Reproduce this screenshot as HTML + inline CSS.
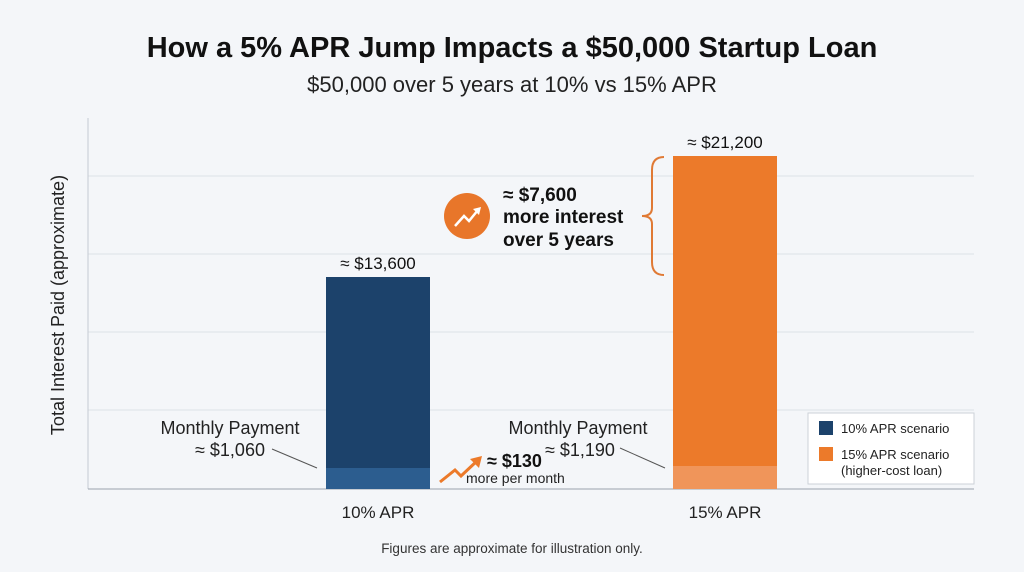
<!DOCTYPE html><html><head><style>body{margin:0;background:#f4f6f9;}svg{display:block;font-family:"Liberation Sans",sans-serif;}</style></head><body>
<svg width="1024" height="572" viewBox="0 0 1024 572">
<rect width="1024" height="572" fill="#f4f6f9"/>
<text x="512" y="57" text-anchor="middle" font-size="29" font-weight="bold" fill="#111">How a 5% APR Jump Impacts a $50,000 Startup Loan</text>
<text x="512" y="92" text-anchor="middle" font-size="22" fill="#222">$50,000 over 5 years at 10% vs 15% APR</text>
<g stroke="#dde1e7" stroke-width="1">
<line x1="88" y1="176" x2="974" y2="176"/><line x1="88" y1="254" x2="974" y2="254"/>
<line x1="88" y1="332" x2="974" y2="332"/><line x1="88" y1="410" x2="974" y2="410"/></g>
<line x1="88" y1="118" x2="88" y2="489" stroke="#c5cad2"/>
<line x1="88" y1="489" x2="974" y2="489" stroke="#9aa2ad"/>
<text transform="translate(64,305) rotate(-90)" text-anchor="middle" font-size="18" fill="#222">Total Interest Paid (approximate)</text>
<rect x="326" y="277" width="104" height="212" fill="#1c426b"/>
<rect x="326" y="468" width="104" height="21" fill="#2c5d8f"/>
<rect x="673" y="156" width="104" height="333" fill="#ec7a2a"/>
<rect x="673" y="466" width="104" height="23" fill="#f0955a"/>
<text x="378" y="269" text-anchor="middle" font-size="17" fill="#111">≈ $13,600</text>
<text x="725" y="148" text-anchor="middle" font-size="17" fill="#111">≈ $21,200</text>
<text x="378" y="518" text-anchor="middle" font-size="17" fill="#222">10% APR</text>
<text x="725" y="518" text-anchor="middle" font-size="17" fill="#222">15% APR</text>
<text x="230" y="434" text-anchor="middle" font-size="18" fill="#222">Monthly Payment</text>
<text x="230" y="456" text-anchor="middle" font-size="18" fill="#222">≈ $1,060</text>
<line x1="272" y1="449" x2="317" y2="468" stroke="#555"/>
<text x="578" y="434" text-anchor="middle" font-size="18" fill="#222">Monthly Payment</text>
<text x="545" y="456" font-size="18" fill="#222">≈ $1,190</text>
<line x1="620" y1="448" x2="665" y2="468" stroke="#555"/>
<polyline points="440,482 455,470 461,476 478,460" fill="none" stroke="#ec7a2a" stroke-width="3"/>
<polygon points="482,456 470,459 479,468" fill="#ec7a2a"/>
<text x="487" y="467" font-size="18" font-weight="bold" fill="#111">≈ $130</text>
<text x="466" y="483" font-size="14" fill="#222">more per month</text>
<circle cx="467" cy="216" r="23" fill="#e8762a"/>
<polyline points="455,226 464,216 469,221 478,210" fill="none" stroke="#fff" stroke-width="2.5"/>
<polygon points="481,207 473,209 479,215" fill="#fff"/>
<text x="503" y="201" font-size="19" font-weight="bold" fill="#111">≈ $7,600</text>
<text x="503" y="223" font-size="19" font-weight="bold" fill="#111">more interest</text>
<text x="503" y="246" font-size="19" font-weight="bold" fill="#111">over 5 years</text>
<path d="M664,157 Q652,157 652,170 L652,208 Q652,216 642,216 Q652,216 652,224 L652,262 Q652,275 664,275" fill="none" stroke="#e07a35" stroke-width="2"/>
<rect x="808" y="413" width="166" height="71" fill="#fff" stroke="#ccd1d8"/>
<rect x="819" y="421" width="14" height="14" fill="#1c426b"/>
<text x="841" y="433" font-size="13" fill="#222">10% APR scenario</text>
<rect x="819" y="447" width="14" height="14" fill="#ec7a2a"/>
<text x="841" y="459" font-size="13" fill="#222">15% APR scenario</text>
<text x="841" y="475" font-size="13" fill="#222">(higher-cost loan)</text>
<text x="512" y="553" text-anchor="middle" font-size="13.5" fill="#333">Figures are approximate for illustration only.</text>
</svg></body></html>
